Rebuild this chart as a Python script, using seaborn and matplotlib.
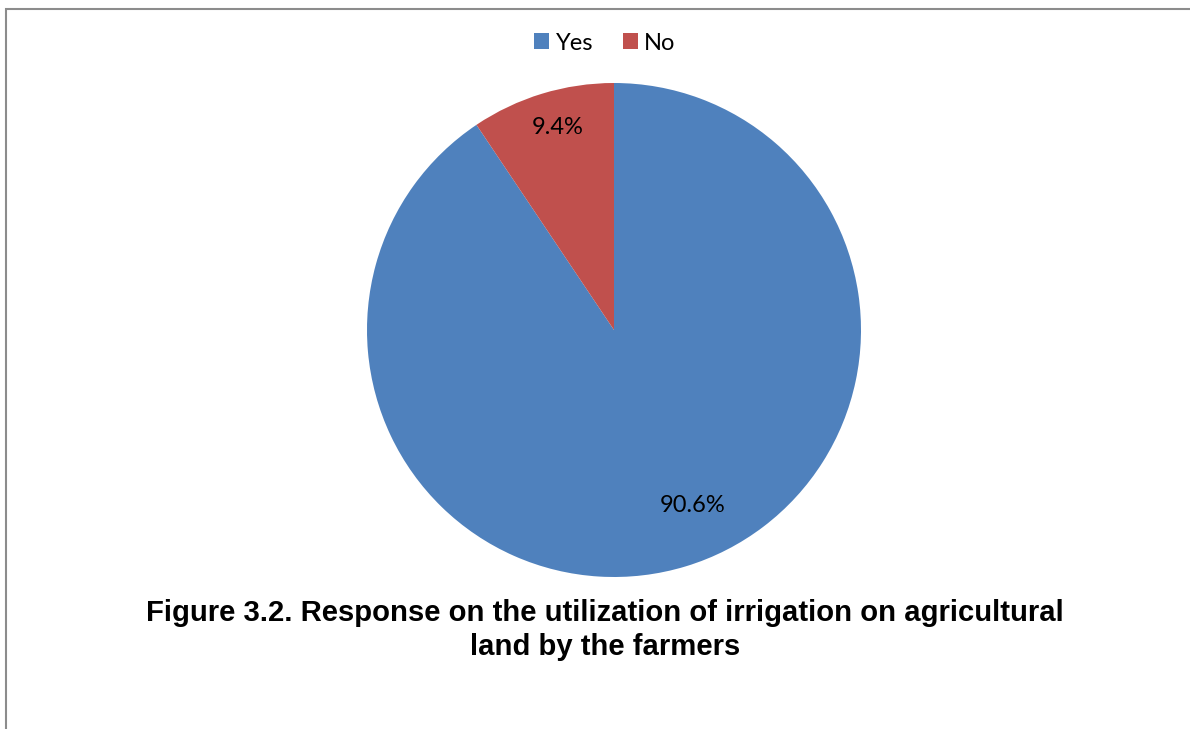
import matplotlib
matplotlib.use("Agg")
import matplotlib.pyplot as plt
from matplotlib.patches import Rectangle
import seaborn as sns

# Survey response shares (percent)
responses = ["Yes", "No"]
shares = [90.6, 9.4]
label_texts = ["90.6%", "9.4%"]
colors = ["#4F81BD", "#C0504D"]

sns.set_theme(style="white")
plt.rcParams["font.family"] = ["Lato", "DejaVu Sans"]
plt.rcParams["text.color"] = "black"

W, H = 1190, 729
fig = plt.figure(figsize=(W / 100, H / 100), dpi=100)
fig.patch.set_facecolor("white")

# Pie axes: centre (614, 330) px, radius 247 px
cx, cy, r = 614, 330, 247
ax = fig.add_axes([(cx - r) / W, (H - cy - r) / H, 2 * r / W, 2 * r / H])
wedges, _ = ax.pie(shares, colors=colors, startangle=90, counterclock=False,
                   wedgeprops=dict(linewidth=0))
ax.set_xlim(-1, 1)
ax.set_ylim(-1, 1)
ax.set_aspect("equal")
ax.axis("off")

# Percentage labels inside the slices
ax.text(0.32, -0.71, label_texts[0], ha="center", va="center", fontsize=17, color="black")
ax.text(-0.23, 0.82, label_texts[1], ha="center", va="center", fontsize=17, color="black")

# Legend at the top centre
fig.legend(wedges, responses, loc="center", bbox_to_anchor=(605 / W, 1 - 43 / H),
           ncol=2, frameon=False, fontsize=17, handlelength=0.64, handleheight=0.64,
           handletextpad=0.27, columnspacing=1.25, labelcolor="black")

# Figure caption
fig.text(605 / W, 1 - 630 / H,
         "Figure 3.2. Response on the utilization of irrigation on agricultural\nland by the farmers",
         ha="center", va="center", fontsize=21.1, fontweight="bold", color="black",
         family=["Liberation Sans", "DejaVu Sans"], linespacing=1.28)

# Chart frame (open at right and bottom edges)
fig.patches.append(Rectangle((5.5 / W, -0.1), 1.2, 1 - 8.5 / H + 0.1,
                             transform=fig.transFigure, fill=False,
                             edgecolor="#8c8c8c", linewidth=1.5))

fig.savefig("out.png", dpi=100, facecolor="white")
